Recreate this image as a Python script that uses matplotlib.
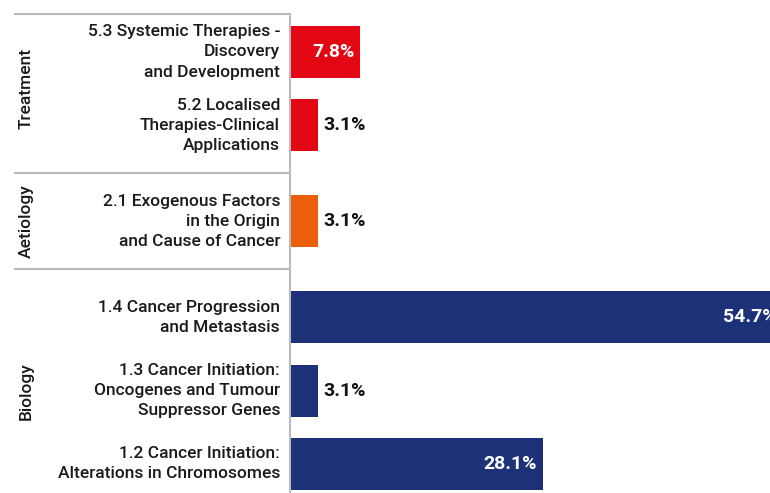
import matplotlib.pyplot as plt

plt.rcParams['font.family'] = ['Roboto', 'DejaVu Sans']

groups = ['Treatment', 'Aetiology', 'Biology']
categories = [
    '5.3 Systemic Therapies -\nDiscovery\nand Development',
    '5.2 Localised\nTherapies-Clinical\nApplications',
    '2.1 Exogenous Factors\nin the Origin\nand Cause of Cancer',
    '1.4 Cancer Progression\nand Metastasis',
    '1.3 Cancer Initiation:\nOncogenes and Tumour\nSuppressor Genes',
    '1.2 Cancer Initiation:\nAlterations in Chromosomes',
]
cat_group = [0, 0, 1, 2, 2, 2]
values = [7.8, 3.1, 3.1, 54.7, 3.1, 28.1]
group_colors = ['#E30613', '#EB5E0B', '#1C3178']

# slot positions, with a small extra gap between groups
gap = 0.31
ypos = []
y = 0.0
for i, g in enumerate(cat_group):
    if i > 0 and g != cat_group[i - 1]:
        y += gap
    ypos.append(y)
    y += 1

fig = plt.figure(figsize=(7.7, 4.93), dpi=100)
ax = fig.add_axes([290 / 770, 0, 480 / 770, 1])
ax.set_xlim(0, 480 / 9)
ax.set_ylim(6.016, -0.709)

colors = [group_colors[g] for g in cat_group]
ax.barh(ypos, values, height=0.71, color=colors)

for yp, v in zip(ypos, values):
    lab = f'{v:.1f}%'
    if v > 5:
        ax.text(v - 0.65, yp, lab, ha='right', va='center', color='white',
                fontsize=14, fontweight='bold')
    else:
        ax.text(v + 0.6, yp, lab, ha='left', va='center', color='#111111',
                fontsize=14, fontweight='bold')

for yp, c in zip(ypos, categories):
    ax.text(-1.1, yp, c, ha='right', va='center', fontsize=12.5,
            color='#1a1a1a', linespacing=1.42, fontweight='medium')

# group labels and separators
lx0 = -275 / 9
bounds = [-0.52]
for gi, g in enumerate(groups):
    ys = [yp for yp, cg in zip(ypos, cat_group) if cg == gi]
    mid = (ys[0] + ys[-1]) / 2
    ax.text(-29.3, mid, g, rotation=90, ha='center', va='center',
            fontsize=12.5, color='#1a1a1a', fontweight='medium')
    if gi < len(groups) - 1:
        nxt = [yp for yp, cg in zip(ypos, cat_group) if cg == gi + 1][0]
        bounds.append((ys[-1] + nxt) / 2)
for b in bounds:
    ax.plot([lx0, 0], [b, b], color='#bbbbbb', lw=1.5, clip_on=False)

for s in ['top', 'right', 'bottom']:
    ax.spines[s].set_visible(False)
ax.spines['left'].set_color('#bbbbbb')
ax.spines['left'].set_linewidth(1.5)
ax.spines['left'].set_bounds(6.016, -0.52)
ax.set_xticks([])
ax.set_yticks([])

fig.savefig('out.png', dpi=100)
